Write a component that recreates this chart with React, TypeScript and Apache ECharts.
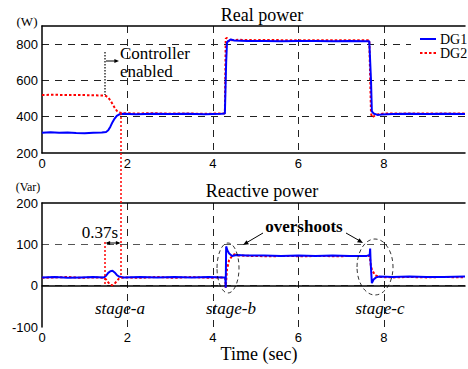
import React, { useEffect, useRef } from "react";
import * as echarts from "echarts";

const xTicks = [0, 2, 4, 6, 8];
const realTicks = [200, 400, 600, 800];
const reactTicks = [-100, 0, 100, 200];

const dg1RealT = [0, 0.2, 0.4, 0.6, 0.8, 1.0, 1.2, 1.4, 1.5, 1.55, 1.6, 1.65, 1.7, 1.75, 1.8, 1.9, 2.2, 2.6, 3.0, 3.4, 3.8, 4.2, 4.28, 4.31, 4.33, 4.37, 4.42, 4.5, 4.8, 5.2, 5.6, 6.0, 6.4, 6.8, 7.2, 7.6, 7.66, 7.7, 7.72, 7.76, 7.85, 7.95, 8.2, 8.6, 9.0, 9.4, 9.9];
const dg1RealP = [312, 314, 311, 313, 310, 309, 312, 313, 316, 325, 345, 370, 390, 405, 412, 416, 414, 417, 415, 416, 414, 416, 418, 700, 810, 818, 826, 820, 817, 818, 816, 818, 817, 816, 817, 816, 816, 600, 430, 418, 410, 412, 415, 416, 415, 416, 415];

const dg2RealT = [0, 0.3, 0.6, 0.9, 1.2, 1.45, 1.5, 1.55, 1.6, 1.65, 1.7, 1.75, 1.8, 1.9, 2.2, 2.6, 3.0, 3.4, 3.8, 4.2, 4.28, 4.3, 4.33, 4.36, 4.42, 4.6, 5.0, 5.4, 5.8, 6.2, 6.6, 7.0, 7.4, 7.66, 7.7, 7.72, 7.76, 7.85, 8.0, 8.4, 8.8, 9.2, 9.9];
const dg2RealP = [520, 521, 519, 520, 518, 517, 514, 505, 490, 470, 450, 433, 424, 419, 418, 419, 417, 418, 416, 418, 419, 830, 835, 815, 822, 824, 822, 823, 821, 822, 821, 822, 821, 822, 420, 398, 402, 412, 418, 417, 418, 417, 418];

const dg1ReactT = [0, 0.3, 0.6, 0.9, 1.2, 1.45, 1.5, 1.55, 1.6, 1.65, 1.7, 1.75, 1.8, 1.9, 2.3, 2.7, 3.1, 3.5, 3.9, 4.25, 4.29, 4.3, 4.31, 4.34, 4.38, 4.45, 4.55, 4.8, 5.2, 5.6, 6.0, 6.4, 6.8, 7.2, 7.6, 7.67, 7.68, 7.69, 7.72, 7.76, 7.82, 7.9, 8.2, 8.6, 9.0, 9.4, 9.9];
const dg1ReactQ = [20, 21, 19, 20, 21, 20, 24, 31, 35, 36, 32, 26, 22, 20, 21, 20, 21, 20, 21, 20, 20, -5, 95, 85, 78, 72, 74, 73, 73, 72, 73, 72, 73, 72, 72, 74, 90, 60, 6, 15, 20, 22, 21, 22, 21, 21, 22];

const dg2ReactT = [0, 0.3, 0.6, 0.9, 1.2, 1.45, 1.5, 1.55, 1.6, 1.65, 1.7, 1.75, 1.8, 1.9, 2.3, 2.7, 3.1, 3.5, 3.9, 4.25, 4.29, 4.3, 4.33, 4.38, 4.45, 4.5, 4.6, 4.9, 5.3, 5.7, 6.1, 6.5, 6.9, 7.3, 7.67, 7.7, 7.74, 7.8, 7.9, 8.2, 8.6, 9.0, 9.4, 9.9];
const dg2ReactQ = [19, 20, 21, 19, 20, 19, 15, 8, 2, 1, 5, 11, 17, 20, 19, 21, 19, 21, 19, 20, 18, -5, 40, 62, 72, 76, 73, 72, 71, 72, 71, 72, 71, 72, 72, 45, 35, 25, 21, 20, 21, 20, 21, 20];

const pairs = (t: number[], v: number[]) => t.map((x, i) => [x, v[i]]);

const SERIF = "Liberation Serif";
const SANS = "Liberation Sans";

export default function App() {
  const ref = useRef<HTMLDivElement>(null);
  useEffect(() => {
    document.body.style.margin = "0";
    const chart = echarts.init(ref.current!, null, { renderer: "svg" });
    const dash = { color: "#222", type: [7, 6] as any, width: 1 };
    const xCommon = (gi: number) => ({
      type: "value",
      gridIndex: gi,
      min: 0,
      max: 9.9,
      interval: 2,
      axisLine: { show: true, lineStyle: { color: "#000", width: 1.5 } },
      axisTick: { show: false },
      axisLabel: {
        margin: 4,
        color: "#000",
        fontFamily: SANS,
        fontSize: 13,
        formatter: (v: number) => (xTicks.includes(v) ? String(v) : ""),
      },
      splitLine: { show: true, showMinLine: false, showMaxLine: false, lineStyle: dash },
    });
    const xTop = (gi: number) => ({
      type: "value",
      gridIndex: gi,
      position: "top",
      min: 0,
      max: 9.9,
      axisLine: { show: true, onZero: false, lineStyle: { color: "#000", width: 1.5 } },
      axisTick: { show: false },
      axisLabel: { show: false },
      splitLine: { show: false },
    });
    const option: any = {
      animation: false,
      grid: [
        { left: 42, top: 26, width: 426, height: 127 },
        { left: 42, top: 203, width: 426, height: 124 },
      ],
      xAxis: [xCommon(0), xCommon(1), xTop(0), xTop(1)],
      yAxis: [
        {
          type: "value",
          gridIndex: 0,
          min: 200,
          max: 900,
          interval: 200,
          axisLine: { show: true, lineStyle: { color: "#000", width: 1.5 } },
          axisTick: { show: false },
          axisLabel: {
            margin: 4,
            color: "#000",
            fontFamily: SANS,
            fontSize: 13,
            formatter: (v: number) => (realTicks.includes(v) ? String(v) : ""),
          },
          splitLine: { show: true, showMinLine: false, showMaxLine: false, lineStyle: dash },
        },
        {
          type: "value",
          gridIndex: 1,
          min: -100,
          max: 200,
          interval: 100,
          axisLine: { show: true, lineStyle: { color: "#000", width: 1.5 } },
          axisTick: { show: false },
          axisLabel: {
            margin: 4,
            color: "#000",
            fontFamily: SANS,
            fontSize: 13,
            formatter: (v: number) => (reactTicks.includes(v) ? String(v) : ""),
          },
          splitLine: {
            show: true,
            showMinLine: false,
            showMaxLine: false,
            lineStyle: { color: "#555", type: [7, 6], width: 1 },
          },
        },
      ],
      series: [
        {
          name: "DG2",
          type: "line",
          xAxisIndex: 0,
          yAxisIndex: 0,
          showSymbol: false,
          data: pairs(dg2RealT, dg2RealP),
          lineStyle: { color: "#ff0000", width: 2, type: [2.5, 2] },
          z: 3,
        },
        {
          name: "DG1",
          type: "line",
          xAxisIndex: 0,
          yAxisIndex: 0,
          showSymbol: false,
          data: pairs(dg1RealT, dg1RealP),
          lineStyle: { color: "#0000ff", width: 2 },
          z: 4,
        },
        {
          name: "DG2",
          type: "line",
          xAxisIndex: 1,
          yAxisIndex: 1,
          showSymbol: false,
          data: pairs(dg2ReactT, dg2ReactQ),
          lineStyle: { color: "#ff0000", width: 2, type: [2.5, 2] },
          z: 3,
        },
        {
          name: "DG1",
          type: "line",
          xAxisIndex: 1,
          yAxisIndex: 1,
          showSymbol: false,
          data: pairs(dg1ReactT, dg1ReactQ),
          lineStyle: { color: "#0000ff", width: 2 },
          z: 4,
        },
      ],
    };
    chart.setOption(option);

    const txt = (x: number, y: number, text: string, extra: any = {}) => ({
      type: "text",
      x,
      y,
      z: 100,
      style: {
        text,
        fontFamily: SERIF,
        fontSize: 17,
        fill: "#000",
        textAlign: "center",
        textVerticalAlign: "middle",
        ...extra,
      },
    });
    const seg = (x1: number, y1: number, x2: number, y2: number, style: any) => ({
      type: "line",
      z: 100,
      shape: { x1, y1, x2, y2 },
      style: { stroke: "#000", lineWidth: 1, ...style },
    });
    const head = (x: number, y: number, ang: number, size = 5) => {
      const a1 = ang + Math.PI - 0.4;
      const a2 = ang + Math.PI + 0.4;
      return {
        type: "polygon",
        z: 100,
        shape: {
          points: [
            [x, y],
            [x + size * Math.cos(a1), y + size * Math.sin(a1)],
            [x + size * Math.cos(a2), y + size * Math.sin(a2)],
          ],
        },
        style: { fill: "#000" },
      };
    };
    const graphics: any[] = [
      // titles
      txt(262, 15, "Real power", { fontSize: 18 }),
      txt(262, 191, "Reactive power", { fontSize: 18 }),
      txt(259, 354, "Time (sec)", { fontSize: 18 }),
      txt(27, 21, "(W)", { fontSize: 13 }),
      txt(28, 187, "(Var)", { fontSize: 12 }),
      // legend
      { type: "rect", z: 90, shape: { x: 411, y: 30, width: 57, height: 33 }, style: { fill: "#fff" } },
      seg(420, 39, 436, 39, { stroke: "#0000ff", lineWidth: 2 }),
      seg(420, 53, 436, 53, { stroke: "#ff0000", lineWidth: 2, lineDash: [2.5, 2] }),
      txt(440, 39, "DG1", { fontSize: 14, textAlign: "left" }),
      txt(440, 53, "DG2", { fontSize: 14, textAlign: "left" }),
      // controller enabled
      seg(105, 52, 105, 95, { lineDash: [1.5, 1.5], lineWidth: 1.2 }),
      seg(106, 61, 117, 61, {}),
      head(119, 61, 0, 5),
      txt(120, 53, "Controller", { textAlign: "left" }),
      txt(120, 71, "enabled", { textAlign: "left" }),
      seg(121, 113, 121, 278, { stroke: "#ff0000", lineDash: [2, 2], lineWidth: 1.5 }),
      seg(105, 242, 105, 285, { stroke: "#ff0000", lineDash: [2, 2], lineWidth: 1.5 }),
      // 0.37s
      seg(107, 243, 119, 243, {}),
      head(105.5, 243, Math.PI, 5),
      head(120.5, 243, 0, 5),
      txt(100, 232, "0.37s"),
      // ellipses
      { type: "ellipse", z: 100, shape: { cx: 228, cy: 268, rx: 11, ry: 25 }, style: { fill: "none", stroke: "#000", lineWidth: 0.8, lineDash: [4, 3] } },
      { type: "ellipse", z: 100, shape: { cx: 375, cy: 267, rx: 18, ry: 28 }, style: { fill: "none", stroke: "#000", lineWidth: 0.8, lineDash: [4, 3] } },
      txt(304, 226, "overshoots", { fontWeight: "bold" }),
      seg(263, 233, 246, 243, {}),
      head(243, 245, Math.atan2(245 - 233, 243 - 263), 6),
      seg(346, 233, 360, 241, {}),
      head(363, 243, Math.atan2(243 - 233, 363 - 346), 6),
      // stages
      txt(120, 308, "stage-a", { fontStyle: "italic" }),
      txt(231, 308, "stage-b", { fontStyle: "italic" }),
      txt(380, 308, "stage-c", { fontStyle: "italic" }),
    ];
    chart.setOption({ graphic: graphics });
    return () => chart.dispose();
  }, []);
  return <div ref={ref} style={{ width: 468, height: 369 }} />;
}
